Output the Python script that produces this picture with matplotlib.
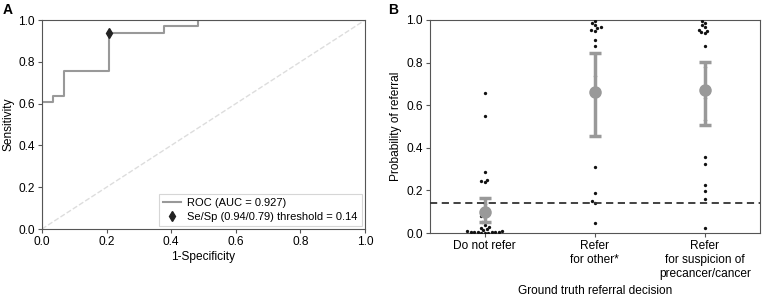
import matplotlib
matplotlib.use("Agg")
import matplotlib.pyplot as plt
import seaborn as sns
import numpy as np
import pandas as pd

plt.rcParams['font.family'] = ['Liberation Sans', 'DejaVu Sans']

# ROC data (panel A)
roc_fpr = [0.0, 0.0, 0.0345, 0.0345, 0.069, 0.069, 0.207, 0.207, 0.379, 0.379, 0.483, 0.483, 1.0]
roc_tpr = [0.0, 0.606, 0.606, 0.636, 0.636, 0.758, 0.758, 0.939, 0.939, 0.970, 0.970, 1.0, 1.0]
op_fpr = [0.207]
op_tpr = [0.939]
roc_label = "ROC (AUC = 0.927)"
op_label = "Se/Sp (0.94/0.79) threshold = 0.14"

# Panel B data
categories = ["Do not refer", "Refer\nfor other*", "Refer\nfor suspicion of\nprecancer/cancer"]
do_not_refer = [0.655, 0.548, 0.285, 0.25, 0.245, 0.24, 0.135, 0.11, 0.10, 0.09, 0.08, 0.075,
                0.05, 0.04, 0.03, 0.025, 0.02, 0.015, 0.01, 0.008, 0.006, 0.005, 0.005, 0.004,
                0.003, 0.003, 0.002, 0.002, 0.001]
refer_other = [0.995, 0.985, 0.975, 0.965, 0.96, 0.955, 0.95, 0.905, 0.88, 0.735, 0.31, 0.19,
               0.15, 0.14, 0.045]
refer_cancer = [0.995, 0.985, 0.975, 0.965, 0.955, 0.95, 0.945, 0.94, 0.88, 0.78, 0.635, 0.53,
                0.355, 0.325, 0.225, 0.195, 0.16, 0.025]
group_means = [0.10, 0.66, 0.67]
ci_low = [0.05, 0.455, 0.505]
ci_high = [0.165, 0.845, 0.805]
threshold = 0.14

fig = plt.figure(figsize=(7.62, 2.98), dpi=100)
spine_c = '#555555'
tick_fs = 8.6

# Panel A
axA = fig.add_axes([0.055, 0.2315, 0.424, 0.701])
axA.plot([0, 1], [0, 1], ls='--', color='#dddddd', lw=1.0)
axA.plot(roc_fpr, roc_tpr, color='#999999', lw=1.5, label=roc_label)
axA.plot(op_fpr, op_tpr, ls='none', marker='d', color='#222222', markersize=5, label=op_label)
axA.set_xlim(0, 1)
axA.set_ylim(0, 1)
axA.set_xticks(np.arange(0, 1.01, 0.2))
axA.set_yticks(np.arange(0, 1.01, 0.2))
axA.set_xlabel("1-Specificity", fontsize=tick_fs, labelpad=2)
axA.set_ylabel("Sensitivity", fontsize=tick_fs, labelpad=3)
axA.tick_params(labelsize=tick_fs, length=3, color=spine_c, width=0.8, pad=2)
for s in axA.spines.values():
    s.set_color(spine_c)
    s.set_linewidth(0.8)
leg = axA.legend(loc='lower right', fontsize=8, frameon=True, fancybox=False,
                 edgecolor='#cccccc', borderpad=0.35, handlelength=1.6, handletextpad=0.6,
                 labelspacing=0.35, borderaxespad=0.3)
leg.get_frame().set_linewidth(0.8)
fig.text(0.004, 0.965, "A", fontsize=10, fontweight='bold', va='center')

# Panel B
axB = fig.add_axes([0.564, 0.218, 0.433, 0.715])
df = pd.DataFrame({
    'cat': [categories[0]] * len(do_not_refer) + [categories[1]] * len(refer_other)
           + [categories[2]] * len(refer_cancer),
    'p': do_not_refer + refer_other + refer_cancer,
})
sns.swarmplot(data=df, x='cat', y='p', order=categories, color='#111111', size=2.4, ax=axB)
xpos = np.arange(len(categories))
yerr = [np.array(group_means) - np.array(ci_low), np.array(ci_high) - np.array(group_means)]
axB.errorbar(xpos, group_means, yerr=yerr, fmt='o', color='#999999', markersize=8,
             elinewidth=2.5, capsize=4, capthick=2.5, zorder=5)
axB.axhline(threshold, ls=(0, (4, 2.5)), color='#333333', lw=1.3, zorder=6)
axB.set_xlim(-0.5, 2.5)
axB.set_ylim(0, 1)
axB.set_yticks(np.arange(0, 1.01, 0.2))
axB.set_yticklabels([f"{v:.1f}" for v in np.arange(0, 1.01, 0.2)])
axB.set_xticks(xpos)
axB.set_xticklabels(categories, fontsize=tick_fs)
axB.set_xlabel("Ground truth referral decision", fontsize=tick_fs, labelpad=4)
axB.set_ylabel("Probability of referral", fontsize=tick_fs, labelpad=3)
axB.tick_params(labelsize=tick_fs, length=3, color=spine_c, width=0.8, pad=2)
for s in axB.spines.values():
    s.set_color(spine_c)
    s.set_linewidth(0.8)
fig.text(0.509, 0.965, "B", fontsize=10, fontweight='bold', va='center')

fig.savefig("out.png", dpi=100)
